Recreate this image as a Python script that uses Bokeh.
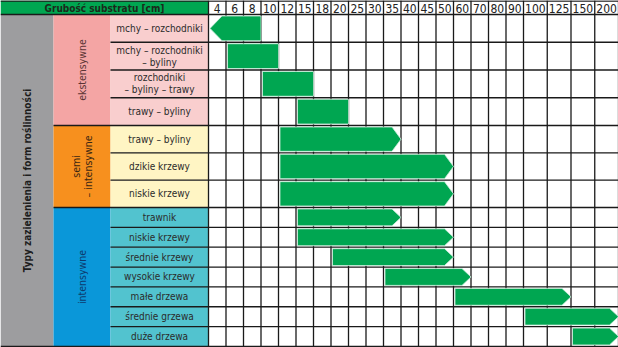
import numpy as np
from bokeh.plotting import figure
from bokeh.models import Range1d
from bokeh.core.properties import value
from bokeh.embed import file_html
from bokeh.resources import INLINE

# ---------------- data ----------------
title_header = "Grubość substratu [cm]"
axis_title = "Typy zazielenienia i form roślinności"
thickness = ["4", "6", "8", "10", "12", "15", "18", "20", "25", "30", "35",
             "40", "45", "50", "60", "70", "80", "90", "100", "125", "150", "200"]
groups = ["ekstensywne", "semi\n– intensywne", "intensywne"]
row_group = [0, 0, 0, 0, 1, 1, 1, 2, 2, 2, 2, 2, 2, 2]
row_labels = ["mchy – rozchodniki", "mchy – rozchodniki\n– byliny",
              "rozchodniki\n– byliny – trawy", "trawy – byliny",
              "trawy – byliny", "dzikie krzewy", "niskie krzewy",
              "trawnik", "niskie krzewy", "średnie krzewy", "wysokie krzewy",
              "małe drzewa", "średnie grzewa", "duże drzewa"]
bar_from = ["4", "6", "10", "15", "12", "12", "12", "15", "15", "20", "35", "60", "100", "150"]
bar_to = ["8", "10", "15", "20", "35", "50", "50", "35", "50", "50", "60", "125", "200", "200"]
bar_arrow = ["left", "none", "none", "none", "right", "right", "right",
             "right", "right", "right", "right", "right", "right", "right"]

# ---------------- layout ----------------
W, H = 618, 347
left_w = [53, 57, 98]          # gray / group / label column widths
header_h = 14
group_row_h = [27.75, 27.33, 19.85]
col_w = [17.5 if int(t) < 100 else 23.75 for t in thickness]

FONT = value("Liberation Sans Narrow, DejaVu Sans Condensed, sans-serif")
GRID = "#1a1a1a"
BAR = "#00a651"
group_fill = ["#f4a5a4", "#f7901e", "#0a97d9"]
label_fill = ["#f9cece", "#fff5c4", "#52c3cf"]
group_text = ["#5b3434", "#3b2612", "#0d3b6e"]

x_gray0, x_grp0 = 0, left_w[0]
x_lab0 = left_w[0] + left_w[1]
x_grid0 = sum(left_w)
col_edges = x_grid0 + np.concatenate([[0], np.cumsum(col_w)])
col_idx = {t: i for i, t in enumerate(thickness)}

row_h = np.array([group_row_h[g] for g in row_group])
row_edges = header_h + np.concatenate([[0], np.cumsum(row_h)])
row_top, row_bot = row_edges[:-1], row_edges[1:]
row_mid = (row_top + row_bot) / 2

p = figure(width=W, height=H, x_range=Range1d(0, W), y_range=Range1d(H, 0),
           x_axis_type=None, y_axis_type=None, toolbar_location=None,
           output_backend="svg", min_border=0, outline_line_color=None)
p.grid.visible = False
p.background_fill_color = "white"

# gray column
p.quad(left=[x_gray0], right=[x_grp0], top=[header_h], bottom=[row_edges[-1]],
       fill_color="#9d9d9f", line_color=None)
# group cells
g_top, g_bot = [], []
for g in range(len(groups)):
    idx = [i for i, rg in enumerate(row_group) if rg == g]
    g_top.append(row_top[idx[0]])
    g_bot.append(row_bot[idx[-1]])
p.quad(left=[x_grp0] * 3, right=[x_lab0] * 3, top=g_top, bottom=g_bot,
       fill_color=group_fill, line_color=None)
# label cells
p.quad(left=[x_lab0] * len(row_labels), right=[x_grid0] * len(row_labels),
       top=list(row_top), bottom=list(row_bot),
       fill_color=[label_fill[g] for g in row_group], line_color=None)
# header green
p.quad(left=[0], right=[x_grid0], top=[0], bottom=[header_h],
       fill_color="#00a651", line_color=None)

# grid lines
x0s, x1s, y0s, y1s = [], [], [], []
for xe in col_edges:
    x0s.append(xe); x1s.append(xe); y0s.append(0); y1s.append(row_edges[-1])
for i, ye in enumerate(row_edges):
    if i == 0 or i == len(row_edges) - 1:
        start = 0
    elif row_group[i] != row_group[i - 1]:
        start = x_grp0
    else:
        start = x_lab0
    x0s.append(start); x1s.append(W); y0s.append(ye); y1s.append(ye)
x0s.append(0); x1s.append(W); y0s.append(0.5); y1s.append(0.5)
p.segment(x0=x0s, x1=x1s, y0=y0s, y1=y1s, line_color=GRID, line_width=1.3)

# bars (arrows)
xs, ys = [], []
for i in range(len(row_labels)):
    a = col_edges[col_idx[bar_from[i]]] + 1.5
    b = col_edges[col_idx[bar_to[i]] + 1]
    h = row_h[i] - 3
    t, bt, m = row_mid[i] - h / 2, row_mid[i] + h / 2, row_mid[i]
    if bar_arrow[i] == "right":
        L = 9
        xs.append([a, b - L, b, b - L, a]); ys.append([t, t, m, bt, bt])
    elif bar_arrow[i] == "left":
        L = 12
        xs.append([a + L, b, b, a + L, a]); ys.append([t, t, bt, bt, m])
    else:
        xs.append([a, b, b, a]); ys.append([t, t, bt, bt])
p.patches(xs=xs, ys=ys, fill_color=BAR, line_color="#cfeedd", line_width=0.8)

# texts
p.text(x=[x_grid0 / 2], y=[header_h / 2 + 0.5], text=[title_header], text_font=FONT,
       text_font_size="10px", text_font_style="bold", text_color="#1b2a1b",
       text_align="center", text_baseline="middle")
p.text(x=list((col_edges[:-1] + col_edges[1:]) / 2), y=[header_h / 2 + 0.5] * len(thickness),
       text=thickness, text_font=FONT, text_font_size="12px", text_color="#222222",
       text_align="center", text_baseline="middle")
p.text(x=[(x_lab0 + x_grid0) / 2] * len(row_labels), y=list(row_mid), text=row_labels,
       text_font=FONT, text_font_size="10px", text_color="#2b2b2b",
       text_align="center", text_baseline="middle", text_line_height=1.1)
p.text(x=[(x_grp0 + x_lab0) / 2] * 3, y=[(a + b) / 2 for a, b in zip(g_top, g_bot)],
       text=groups, angle=np.pi / 2, text_font=FONT, text_font_size="10.5px",
       text_color=group_text, text_align="center", text_baseline="middle",
       text_line_height=1.0)
p.text(x=[x_grp0 / 2], y=[(header_h + row_edges[-1]) / 2], text=[axis_title],
       angle=np.pi / 2, text_font=FONT, text_font_size="10px", text_font_style="bold",
       text_color="#1e1e1e", text_align="center", text_baseline="middle")

open("out.html", "w").write(file_html(p, INLINE))
